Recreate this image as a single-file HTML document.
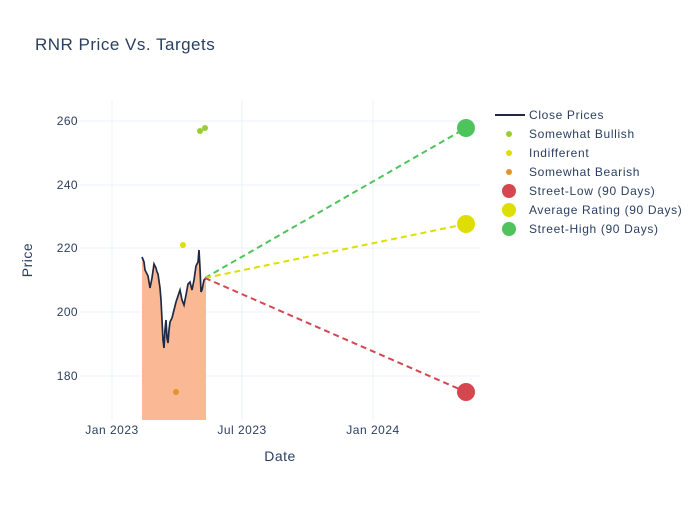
<!DOCTYPE html>
<html><head><meta charset="utf-8"><style>
body{margin:0;background:#fff;font-family:"Liberation Sans",sans-serif;}
</style></head><body>
<svg width="700" height="500" xmlns="http://www.w3.org/2000/svg" font-family="Liberation Sans, sans-serif">
<rect width="700" height="500" fill="#fff"/>
<text x="35" y="50" font-size="17" fill="#2a3f5f" letter-spacing="0.5">RNR Price Vs. Targets</text>
<g stroke="#ebf0f8" stroke-width="1">
<line x1="112" y1="100" x2="112" y2="420"/><line x1="242" y1="100" x2="242" y2="420"/><line x1="373" y1="100" x2="373" y2="420"/>
<line x1="80" y1="121" x2="480" y2="121"/><line x1="80" y1="185" x2="480" y2="185"/><line x1="80" y1="248" x2="480" y2="248"/><line x1="80" y1="312" x2="480" y2="312"/><line x1="80" y1="376" x2="480" y2="376"/>
</g>
<g font-size="12" fill="#2a3f5f" text-anchor="end" letter-spacing="0.4">
<text x="78" y="125">260</text><text x="78" y="189">240</text><text x="78" y="252">220</text><text x="78" y="316">200</text><text x="78" y="380">180</text>
</g>
<g font-size="12" fill="#2a3f5f" text-anchor="middle" letter-spacing="0.5">
<text x="112" y="434">Jan 2023</text><text x="242" y="434">Jul 2023</text><text x="373" y="434">Jan 2024</text>
</g>
<text x="280" y="461" font-size="14" fill="#2a3f5f" text-anchor="middle" letter-spacing="0.5">Date</text>
<text x="32" y="260" font-size="14" fill="#2a3f5f" text-anchor="middle" letter-spacing="0.5" transform="rotate(-90 32 260)">Price</text>
<path d="M142,257 L144,262 L145,270 L147,274 L148,276 L150,288 L152,278 L154,264 L156,268 L157,272 L158,274 L160,288 L161,300 L162,320 L163,340 L164,348 L165,330 L166,320 L167,338 L168,343 L169,330 L170,322 L172,318 L174,310 L176,302 L178,296 L180,290 L182,300 L184,305 L186,295 L188,284 L190,282 L192,290 L194,280 L196,266 L198,262 L199,250 L200,268 L201,292 L202,290 L204,280 L206,278 L206,420 L142,420 Z" fill="#fbb48f" opacity="0.95"/>
<path d="M142,257 L144,262 L145,270 L147,274 L148,276 L150,288 L152,278 L154,264 L156,268 L157,272 L158,274 L160,288 L161,300 L162,320 L163,340 L164,348 L165,330 L166,320 L167,338 L168,343 L169,330 L170,322 L172,318 L174,310 L176,302 L178,296 L180,290 L182,300 L184,305 L186,295 L188,284 L190,282 L192,290 L194,280 L196,266 L198,262 L199,250 L200,268 L201,292 L202,290 L204,280 L206,278" fill="none" stroke="#1f2a44" stroke-width="1.7"/>
<g stroke-width="2" stroke-dasharray="6,4" fill="none">
<line x1="205" y1="278" x2="466" y2="128" stroke="#4fc35c"/>
<line x1="205" y1="278" x2="466" y2="224" stroke="#dede00"/>
<line x1="205" y1="278" x2="466" y2="392" stroke="#d5474e"/>
</g>
<circle cx="200" cy="131" r="3" fill="#9acd32"/><circle cx="205" cy="128" r="3" fill="#9acd32"/>
<circle cx="183" cy="245" r="3" fill="#dede00"/>
<circle cx="176" cy="392" r="3" fill="#e0952c"/>
<circle cx="466" cy="128" r="9" fill="#4fc35c"/>
<circle cx="466" cy="224" r="9" fill="#dede00"/>
<circle cx="466" cy="392" r="9" fill="#d5474e"/>
<g font-size="12" fill="#2a3f5f" letter-spacing="0.65">
<line x1="495" y1="115" x2="525" y2="115" stroke="#1f2a44" stroke-width="2"/><text x="529" y="119">Close Prices</text>
<circle cx="509" cy="134" r="3" fill="#9acd32"/><text x="529" y="138">Somewhat Bullish</text>
<circle cx="509" cy="153" r="3" fill="#dede00"/><text x="529" y="157">Indifferent</text>
<circle cx="509" cy="172" r="3" fill="#e0952c"/><text x="529" y="176">Somewhat Bearish</text>
<circle cx="509" cy="191" r="7" fill="#d5474e"/><text x="529" y="195">Street-Low (90 Days)</text>
<circle cx="509" cy="210" r="7" fill="#dede00"/><text x="529" y="214">Average Rating (90 Days)</text>
<circle cx="509" cy="229" r="7" fill="#4fc35c"/><text x="529" y="233">Street-High (90 Days)</text>
</g>
</svg>
</body></html>
